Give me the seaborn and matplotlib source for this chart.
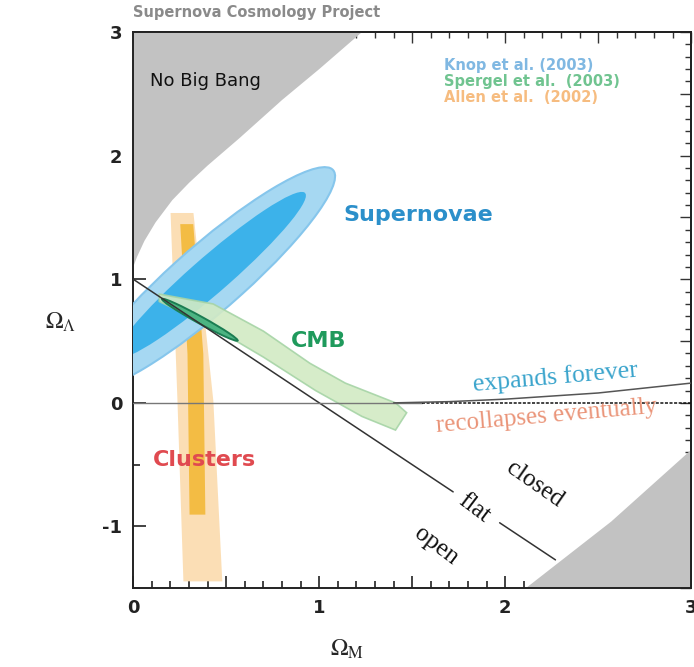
import numpy as np
import pandas as pd
import matplotlib
matplotlib.use('Agg')
import matplotlib.pyplot as plt
from matplotlib.patches import Ellipse
from matplotlib.ticker import MultipleLocator, FuncFormatter
import seaborn as sns

# --- data ---
# "No Big Bang" boundary (Omega_M, Omega_Lambda)
nbb_om = [0.0, 0.02, 0.06, 0.12, 0.21, 0.30, 0.40, 0.57, 0.80, 1.00, 1.23]
nbb_ol = [1.10, 1.18, 1.31, 1.46, 1.64, 1.78, 1.92, 2.14, 2.45, 2.70, 3.00]

# lower-right excluded corner
corner_om = [2.11, 2.57, 3.00]
corner_ol = [-1.50, -0.96, -0.38]

# flat universe line, split around the "flat" label
flat_om_a = [0.0, 1.72]
flat_ol_a = [1.0, -0.72]
flat_om_b = [1.97, 2.27]
flat_ol_b = [-0.97, -1.27]

# expands / recollapses boundary
exp_om = [1.40, 1.70, 2.00, 2.50, 3.00]
exp_ol = [0.00, 0.01, 0.03, 0.08, 0.16]

# Knop et al. supernova contours: centre, (width, height, angle) in data units
knop_out_center = (0.406, 1.008)
knop_outer = (2.21, 0.44, 53.6)
knop_in_center = (0.418, 1.035)
knop_inner = (1.67, 0.24, 53.1)

# Spergel CMB band edges
cmb_up_om = [0.14, 0.43, 0.70, 0.95, 1.14, 1.41, 1.47]
cmb_up_ol = [0.88, 0.80, 0.58, 0.32, 0.16, 0.00, -0.08]
cmb_lo_om = [0.14, 0.43, 0.70, 0.98, 1.23, 1.41]
cmb_lo_ol = [0.82, 0.61, 0.37, 0.10, -0.11, -0.22]
cmb_core_center = (0.358, 0.672)
cmb_core = (0.528, 0.05, -39.8)

# Allen et al. cluster band (edges vs Omega_Lambda)
cl_ol = [1.54, 0.02, -1.44]
cl_out_lo = [0.198, 0.235, 0.267]
cl_out_hi = [0.321, 0.428, 0.476]
cl_in_ol = [1.45, 0.40, -0.90]
cl_in_lo = [0.25, 0.289, 0.300]
cl_in_hi = [0.32, 0.374, 0.385]

legend_txt = ['Knop et al. (2003)', 'Spergel et al.  (2003)', 'Allen et al.  (2002)']
legend_col = ['#80b8e2', '#70c490', '#f6bc80']

sns.set_theme(style='ticks')
plt.rcParams['font.family'] = ['DejaVu Sans']
plt.rcParams['axes.unicode_minus'] = False

fig = plt.figure(figsize=(6.94, 6.67), dpi=100)
ax = fig.add_axes([0.192, 0.118, 0.804, 0.834])
ax.set_xlim(0, 3)
ax.set_ylim(-1.5, 3)

gray = '#c2c2c2'
ax.fill(nbb_om + [0.0], nbb_ol + [3.0], color=gray, lw=0, zorder=1)
ax.fill(corner_om + [3.0], corner_ol + [-1.5], color=gray, lw=0, zorder=1)

# clusters
ax.fill_betweenx(cl_ol, cl_out_lo, cl_out_hi, color='#fbd9a8', alpha=0.85, lw=0, zorder=2)
ax.fill_betweenx(cl_in_ol, cl_in_lo, cl_in_hi, color='#f2b630', alpha=0.85, lw=0, zorder=2)

# supernovae
ax.add_patch(Ellipse(knop_out_center, *knop_outer[:2], angle=knop_outer[2],
                     facecolor='#a6d8f2', edgecolor='#86c6ec', lw=1.5, zorder=3))
ax.add_patch(Ellipse(knop_in_center, *knop_inner[:2], angle=knop_inner[2],
                     facecolor='#3cb2ea', edgecolor='none', zorder=3))

# CMB
cmb = pd.DataFrame({'om': cmb_up_om + cmb_lo_om[::-1], 'ol': cmb_up_ol + cmb_lo_ol[::-1]})
ax.fill(cmb['om'], cmb['ol'], facecolor='#d2eac4', edgecolor='#a6d4a6', lw=1.2,
        alpha=0.9, zorder=4)
ax.add_patch(Ellipse(cmb_core_center, *cmb_core[:2], angle=cmb_core[2],
                     facecolor='#4cb482', edgecolor='#1b7d52', lw=1.4, zorder=5))

# lines
sns.lineplot(x=flat_om_a, y=flat_ol_a, ax=ax, color='#333333', lw=1.1, zorder=6)
sns.lineplot(x=flat_om_b, y=flat_ol_b, ax=ax, color='#333333', lw=1.1, zorder=6)
sns.lineplot(x=[0, 1.55], y=[0, 0], ax=ax, color='#777777', lw=1.0, zorder=6)
sns.lineplot(x=[1.55, 3.0], y=[0, 0], ax=ax, color='#111111', lw=1.1,
             linestyle=(0, (2, 1)), zorder=6)
sns.lineplot(x=exp_om, y=exp_ol, ax=ax, color='#555555', lw=1.1, zorder=6)

# labels
ax.text(0.09, 2.6, 'No Big Bang', fontsize=13, color='#111111', va='center', zorder=7)
for i, (t, c) in enumerate(zip(legend_txt, legend_col)):
    ax.text(1.67, 2.73 - 0.13 * i, t, fontsize=10.5, fontweight='bold', color=c,
            va='center', zorder=7)
ax.text(1.13, 1.52, 'Supernovae', fontsize=16, fontweight='bold', color='#2b8fca',
        va='center', zorder=7)
ax.text(0.85, 0.5, 'CMB', fontsize=16, fontweight='bold', color='#1f9a5c',
        va='center', zorder=7)
ax.text(0.107, -0.46, 'Clusters', fontsize=16, fontweight='bold', color='#e04a50',
        va='center', zorder=7)

serif = 'Liberation Serif'
ax.text(2.27, 0.21, 'expands forever', family=serif, fontsize=18.5, color='#3aa4cc',
        rotation=5, ha='center', va='center', zorder=7)
ax.text(2.22, -0.11, 'recollapses eventually', family=serif, fontsize=18, color='#ea9478',
        rotation=5, ha='center', va='center', zorder=7)
ax.text(2.16, -0.66, 'closed', family=serif, fontsize=18, color='#111111',
        rotation=-35, ha='center', va='center', zorder=7)
ax.text(1.83, -0.85, 'flat', family=serif, fontsize=18, color='#111111',
        rotation=-37, ha='center', va='center', zorder=7)
ax.text(1.63, -1.16, 'open', family=serif, fontsize=18, color='#111111',
        rotation=-37, ha='center', va='center', zorder=7)

# ticks
int_fmt = FuncFormatter(lambda v, p: '%d' % round(v) if abs(v - round(v)) < 1e-6 else '')
ax.xaxis.set_major_locator(MultipleLocator(0.5))
ax.xaxis.set_minor_locator(MultipleLocator(0.1))
ax.xaxis.set_major_formatter(int_fmt)
ax.yaxis.set_major_locator(MultipleLocator(1))
ax.yaxis.set_minor_locator(MultipleLocator(0.5))
ax.yaxis.set_major_formatter(int_fmt)
ax.tick_params(which='both', direction='in', colors='#222222', labelsize=13, width=1.2)
ax.tick_params(which='major', length=9)
ax.tick_params(which='minor', length=5)
ax.tick_params(axis='x', pad=8)
ax.tick_params(axis='y', pad=8)
for lab in ax.get_xticklabels() + ax.get_yticklabels():
    lab.set_fontweight('bold')

top = ax.secondary_xaxis('top')
top.xaxis.set_major_locator(MultipleLocator(0.5))
top.xaxis.set_minor_locator(MultipleLocator(0.1))
top.tick_params(which='both', direction='in', labeltop=False, width=1.0, colors='#333333')
top.tick_params(which='major', length=8)
top.tick_params(which='minor', length=4)

right = ax.secondary_yaxis('right')
right.yaxis.set_major_locator(MultipleLocator(0.5))
right.yaxis.set_minor_locator(MultipleLocator(0.1))
right.tick_params(which='both', direction='in', labelright=False, width=1.0, colors='#333333')
right.tick_params(which='major', length=8)
right.tick_params(which='minor', length=4)

for s in ax.spines.values():
    s.set_color('#222222')
    s.set_linewidth(1.4)

fig.text(0.192, 0.982, 'Supernova Cosmology Project', fontsize=10.5, fontweight='bold',
         color='#8a8a8a', va='center', ha='left')
fig.text(0.087, 0.517, r'$\Omega_\Lambda$', fontsize=17, family=serif, ha='center',
         va='center', math_fontfamily='stix')
fig.text(0.50, 0.026, r'$\Omega_{\rm M}$', fontsize=17, family=serif, ha='center',
         va='center', math_fontfamily='stix')

fig.savefig('out.png', dpi=100)
